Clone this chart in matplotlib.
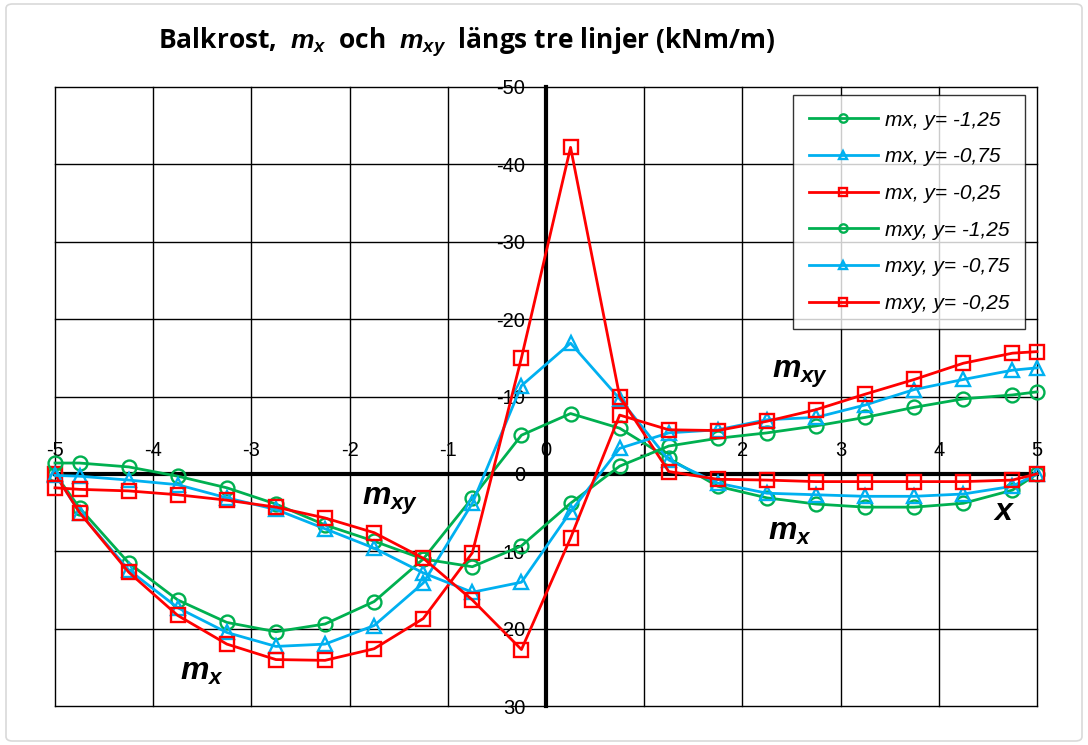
import matplotlib
matplotlib.use("Agg")
import matplotlib.pyplot as plt
from matplotlib.patches import FancyBboxPatch

plt.rcParams['axes.unicode_minus'] = False
plt.rcParams['font.family'] = ['Liberation Sans', 'DejaVu Sans']
plt.rcParams['mathtext.fontset'] = 'custom'
plt.rcParams['mathtext.it'] = 'Liberation Sans:bold:italic'
plt.rcParams['mathtext.rm'] = 'Liberation Sans:bold'

# ---- data ----
x = [-5, -4.75, -4.25, -3.75, -3.25, -2.75, -2.25, -1.75, -1.25, -0.75, -0.25,
     0.25, 0.75, 1.25, 1.75, 2.25, 2.75, 3.25, 3.75, 4.25, 4.75, 5]

mx_125 = [0, 4.4, 11.5, 16.3, 19.2, 20.4, 19.4, 16.5, 11.0, 3.1, -5.0,
          -7.8, -5.9, -2.0, 1.6, 3.1, 3.9, 4.3, 4.3, 3.8, 2.1, 0]
mx_075 = [0, 5.0, 12.4, 17.3, 20.5, 22.3, 22.0, 19.6, 14.1, 3.8, -11.4,
          -16.9, -9.7, -1.8, 1.2, 2.5, 2.7, 2.9, 2.9, 2.6, 1.6, 0]
mx_025 = [0, 5.0, 12.7, 18.3, 22.0, 24.0, 24.1, 22.6, 18.7, 10.2, -15.0,
          -42.2, -10.0, -0.3, 0.7, 0.8, 1.0, 1.0, 1.0, 1.0, 0.8, 0]

mxy_125 = [-1.4, -1.4, -0.9, 0.3, 1.8, 3.9, 6.6, 8.7, 11.0, 12.0, 9.3,
           3.8, -1.0, -3.6, -4.6, -5.3, -6.2, -7.3, -8.6, -9.7, -10.2, -10.6]
mxy_075 = [0.2, 0.3, 0.8, 1.4, 3.1, 4.6, 7.1, 9.6, 12.8, 15.3, 14.0,
           4.9, -3.3, -5.3, -5.7, -7.0, -7.3, -8.9, -10.9, -12.2, -13.4, -13.7]
mxy_025 = [1.8, 2.0, 2.2, 2.7, 3.4, 4.3, 5.7, 7.6, 10.9, 16.3, 22.7,
           8.3, -7.6, -5.7, -5.6, -6.8, -8.3, -10.3, -12.2, -14.3, -15.6, -15.8]

labels = ["mx, y= -1,25", "mx, y= -0,75", "mx, y= -0,25",
          "mxy, y= -1,25", "mxy, y= -0,75", "mxy, y= -0,25"]
xticks = [-5, -4, -3, -2, -1, 0, 1, 2, 3, 4, 5]
yticks = [-50, -40, -30, -20, -10, 0, 10, 20, 30]

GREEN, BLUE, RED = '#00B050', '#00B0F0', '#FF0000'
series = [(mx_125, GREEN, 'o'), (mx_075, BLUE, '^'), (mx_025, RED, 's'),
          (mxy_125, GREEN, 'o'), (mxy_075, BLUE, '^'), (mxy_025, RED, 's')]

fig = plt.figure(figsize=(10.88, 7.45), dpi=100)
fig.patches.append(FancyBboxPatch((6/1088, 4/745), 1076/1088, 737/745,
                                  boxstyle="round,pad=0,rounding_size=0.006",
                                  transform=fig.transFigure, facecolor='white',
                                  edgecolor='#d9d9d9', linewidth=1.2, zorder=-10))
ax = fig.add_axes([55/1088, 1 - 706/745, (1037 - 55)/1088, (706 - 87)/745])
ax.set_facecolor('none')
ax.set_xlim(-5, 5)
ax.set_ylim(30, -50)

for xv in xticks:
    ax.axvline(xv, color='black', lw=1.0, clip_on=False, zorder=1)
for yv in yticks:
    ax.axhline(yv, color='black', lw=1.0, clip_on=False, zorder=1)

ax.spines['bottom'].set_visible(False)
ax.spines['right'].set_visible(False)
ax.spines['top'].set_position(('data', 0))
ax.spines['left'].set_position(('data', 0))
ax.spines['top'].set_linewidth(3)
ax.spines['left'].set_linewidth(3)
ax.spines['top'].set_zorder(2)
ax.spines['left'].set_zorder(2)
ax.xaxis.tick_top()
ax.set_xticks(xticks)
ax.set_yticks(yticks)
ax.tick_params(axis='x', length=0, pad=10, labelsize=14.5)
ax.tick_params(axis='y', length=0, pad=15, labelsize=14.5)

handles = []
for (vals, col, mk), lab in zip(series, labels):
    h, = ax.plot(x, vals, color=col, lw=2.0, marker=mk, markersize=10,
                 markerfacecolor='none', markeredgecolor=col, markeredgewidth=1.7,
                 label=lab, zorder=3, clip_on=False)
    handles.append(h)

leg = fig.legend(handles=handles, loc='upper right',
                 bbox_to_anchor=(1025/1088, 1 - 95/745),
                 bbox_transform=fig.transFigure, frameon=True, fancybox=False,
                 borderaxespad=0, markerscale=0.6, handlelength=3.3,
                 handletextpad=0.35, labelspacing=0.85, borderpad=0.75,
                 prop={'style': 'italic', 'size': 15})
leg.get_frame().set_edgecolor('black')
leg.get_frame().set_linewidth(1.0)

# annotations
ax.text(-3.73, 26.6, r"$m_x$", fontsize=23, va='baseline', ha='left', zorder=4)
ax.text(-1.87, 4.0, r"$m_{xy}$", fontsize=23, va='baseline', ha='left', zorder=4)
ax.text(2.26, 8.5, r"$m_x$", fontsize=23, va='baseline', ha='left', zorder=4)
ax.text(2.30, -12.4, r"$m_{xy}$", fontsize=23, va='baseline', ha='left', zorder=4)
ax.text(4.55, 5.9, r"$x$", fontsize=23, va='baseline', ha='left', zorder=4)

fig.text(466/1088, 1 - 42/745,
         r"Balkrost,  $m_x$  och  $m_{xy}$  längs tre linjer (kNm/m)",
         ha='center', va='center', fontsize=19, fontweight='bold',
         family=['Open Sans', 'DejaVu Sans'])

fig.savefig('out.png', dpi=100)
